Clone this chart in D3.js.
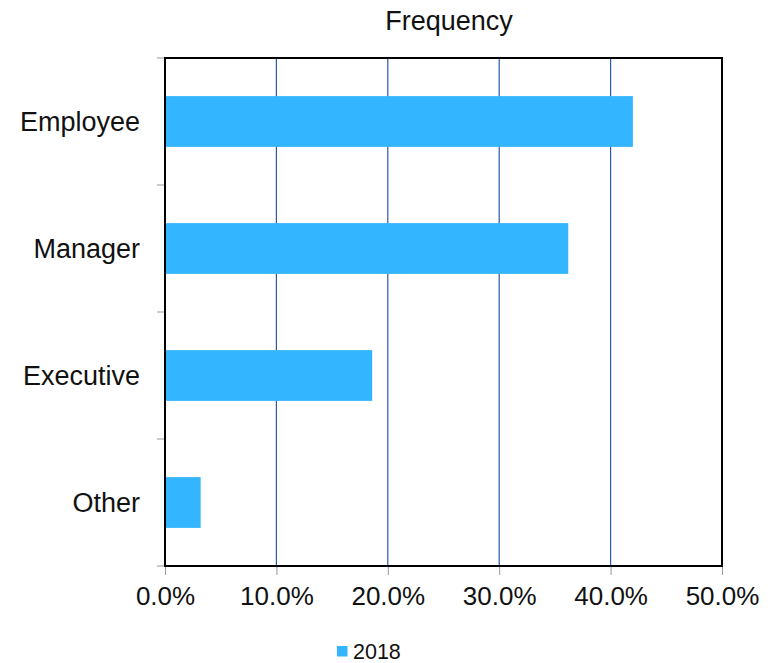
<!DOCTYPE html>
<html>
<head>
<meta charset="utf-8">
<script src="https://cdn.jsdelivr.net/npm/d3@7"></script>
<style>
  html, body { margin: 0; padding: 0; background: #fff; }
  svg { display: block; font-family: "Liberation Sans", Arial, sans-serif; }
</style>
</head>
<body>
<svg id="chart" width="781" height="663"></svg>
<script>
// Share of respondents by role
const categories = ["Employee", "Manager", "Executive", "Other"];
const values2018 = [0.420, 0.362, 0.186, 0.032];
const xTicks = [0, 0.1, 0.2, 0.3, 0.4, 0.5];
const seriesName = "2018";
const title = "Frequency";

const W = 781, H = 663;
const margin = { top: 58, right: 59, bottom: 97, left: 165 };
const iw = W - margin.left - margin.right;
const ih = H - margin.top - margin.bottom;

const svg = d3.select("#chart");
const g = svg.append("g").attr("transform", `translate(${margin.left},${margin.top})`);

const x = d3.scaleLinear().domain([0, 0.5]).range([0, iw]);
const y = d3.scaleBand().domain(categories).range([0, ih])
  .paddingInner(0.6).paddingOuter(0.3);

const barColor = "#33b5ff";
const gridColor = "#2b5aa8";
const fmt = d3.format(".1%");

// vertical gridlines
g.selectAll("line.grid").data(xTicks.slice(1, -1)).join("line")
  .attr("class", "grid")
  .attr("x1", d => x(d)).attr("x2", d => x(d))
  .attr("y1", 0).attr("y2", ih)
  .attr("stroke", gridColor).attr("stroke-width", 1.2);

// bars
g.selectAll("rect.bar").data(categories).join("rect")
  .attr("class", "bar")
  .attr("x", x(0) + 1)
  .attr("y", d => y(d))
  .attr("width", (d, i) => x(values2018[i]) - x(0) - 1)
  .attr("height", y.bandwidth())
  .attr("fill", barColor);

// x axis (ticks + labels)
const xAxis = d3.axisBottom(x).tickValues(xTicks).tickFormat(fmt).tickSize(9).tickPadding(12);
const xg = g.append("g").attr("transform", `translate(0,${ih})`).call(xAxis);
xg.select(".domain").remove();
xg.selectAll(".tick line").attr("stroke", "#999");
xg.selectAll(".tick text")
  .attr("font-size", 26).attr("fill", "#111")
  .attr("font-family", "Liberation Sans, Arial, sans-serif");

// y axis: tick marks at category boundaries
const boundaries = d3.range(categories.length + 1).map(i => i * y.step());
g.selectAll("line.ytick").data(boundaries).join("line")
  .attr("class", "ytick")
  .attr("x1", -8).attr("x2", 0)
  .attr("y1", d => d).attr("y2", d => d)
  .attr("stroke", "#999").attr("stroke-width", 1);

// category labels
g.selectAll("text.cat").data(categories).join("text")
  .attr("class", "cat")
  .attr("x", -25)
  .attr("y", d => y(d) + y.bandwidth() / 2 + 9)
  .attr("text-anchor", "end")
  .attr("font-size", 27).attr("fill", "#111")
  .text(d => d);

// plot frame
g.append("rect")
  .attr("x", 0).attr("y", 0).attr("width", iw).attr("height", ih)
  .attr("fill", "none").attr("stroke", "#000").attr("stroke-width", 2);

// title
svg.append("text")
  .attr("x", 449).attr("y", 30)
  .attr("text-anchor", "middle")
  .attr("font-size", 27).attr("fill", "#111")
  .text(title);

// legend
const lg = svg.append("g").attr("transform", "translate(337,646)");
lg.append("rect").attr("width", 10.5).attr("height", 10.5).attr("fill", barColor);
lg.append("text").attr("x", 16).attr("y", 12.5)
  .attr("font-size", 21.5).attr("fill", "#111").text(seriesName);
</script>
</body>
</html>
